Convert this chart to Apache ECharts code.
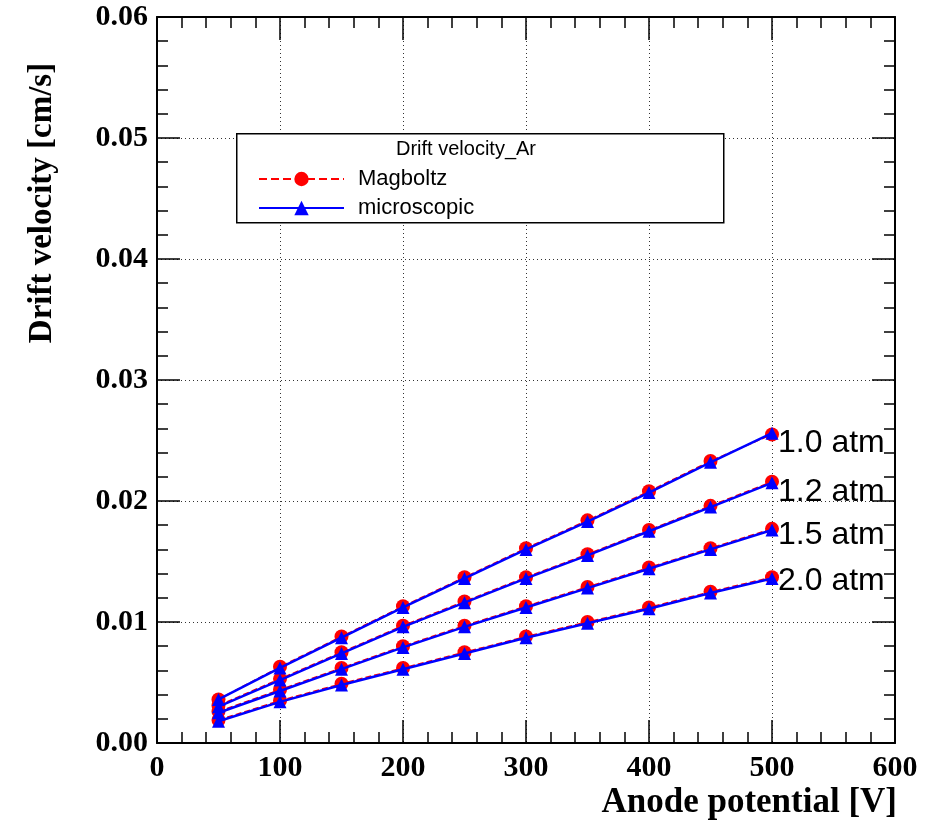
<!DOCTYPE html>
<html>
<head>
<meta charset="utf-8">
<script src="https://cdn.jsdelivr.net/npm/echarts@6/dist/echarts.min.js"></script>
<style>
html,body{margin:0;padding:0;background:#fff;}
#chart{width:932px;height:825px;}
</style>
</head>
<body>
<div id="chart"></div>
<script>
var voltages = [50,100,150,200,250,300,350,400,450,500];
var pressures = ['1.0 atm','1.2 atm','1.5 atm','2.0 atm'];
var magboltz10 = [0.0036,0.0063,0.0088,0.0113,0.0137,0.0161,0.0184,0.0208,0.0233,0.0255];
var magboltz12 = [0.0031,0.0053,0.0075,0.0097,0.0117,0.0137,0.0156,0.0176,0.0196,0.0216];
var magboltz15 = [0.0026,0.0044,0.0062,0.0080,0.0097,0.0113,0.0129,0.0145,0.0161,0.0177];
var magboltz20 = [0.0019,0.0035,0.0049,0.0062,0.0075,0.0088,0.0100,0.0112,0.0125,0.0137];
var micro10 = [0.0036,0.0062,0.0087,0.0112,0.0136,0.0160,0.0183,0.0207,0.0232,0.0256];
var micro12 = [0.0030,0.0052,0.0074,0.0096,0.0116,0.0136,0.0155,0.0175,0.0195,0.0215];
var micro15 = [0.0025,0.0043,0.0061,0.0079,0.0096,0.0112,0.0128,0.0144,0.0160,0.0176];
var micro20 = [0.0018,0.0034,0.0048,0.0061,0.0074,0.0087,0.0099,0.0111,0.0124,0.0136];
var labelOffsets = [[0,10],[0,9],[0,5],[0,3]];

var magAll = [magboltz10, magboltz12, magboltz15, magboltz20];
var micAll = [micro10, micro12, micro15, micro20];

function pairs(arr){ return voltages.map(function(v,i){ return [v, arr[i]]; }); }

var series = [];
magAll.forEach(function(arr){
  series.push({
    name:'Magboltz', type:'line', data:pairs(arr),
    symbol:'circle', symbolSize:14,
    itemStyle:{color:'#ff0000'},
    lineStyle:{color:'#ff0000', type:'dashed', width:1.5},
    z:2, animation:false
  });
});
micAll.forEach(function(arr, k){
  series.push({
    name:'microscopic', type:'line', data:pairs(arr),
    symbol:'triangle', symbolSize:13,
    itemStyle:{color:'#0000ff'},
    lineStyle:{color:'#0000ff', width:2.5},
    z:3, animation:false,
    endLabel:{show:true, formatter:pressures[k], fontFamily:'Liberation Sans, Arial, sans-serif',
      fontSize:32, color:'#000', distance:6, offset:labelOffsets[k]}
  });
});

var tickFont = {fontFamily:'Liberation Serif, Times New Roman, serif', fontWeight:'bold', fontSize:30, color:'#000'};
function frameAxis(extra){
  return Object.assign({
    axisLine:{show:true, onZero:false, lineStyle:{color:'#000', width:2}},
    axisTick:{show:true, inside:true, length:23, lineStyle:{color:'#000', width:1.5}},
    minorTick:{show:true, splitNumber:5, length:11, lineStyle:{color:'#000', width:1.5}}
  }, extra);
}

var chart = echarts.init(document.getElementById('chart'), null, {renderer:'canvas'});
chart.setOption({
  backgroundColor:'#fff',
  animation:false,
  grid:{left:157, right:37, top:17, bottom:82, show:false},
  xAxis:[
    frameAxis({type:'value', min:0, max:600, interval:100, position:'bottom',
      splitLine:{show:true, lineStyle:{color:'#333', type:[1,3], width:1}},
      axisLabel:Object.assign({margin:10}, tickFont)}),
    frameAxis({type:'value', min:0, max:600, interval:100, position:'top',
      splitLine:{show:false}, axisLabel:{show:false}})
  ],
  yAxis:[
    frameAxis({type:'value', min:0, max:0.06, interval:0.01, position:'left',
      splitLine:{show:true, lineStyle:{color:'#333', type:[1,3], width:1}},
      axisLabel:Object.assign({margin:9, formatter:function(v){return v.toFixed(2);}}, tickFont)}),
    frameAxis({type:'value', min:0, max:0.06, interval:0.01, position:'right',
      splitLine:{show:false}, axisLabel:{show:false}})
  ],
  legend:{
    data:['Magboltz','microscopic'], orient:'vertical', left:253, top:163, z:20,
    itemWidth:85, itemHeight:18, itemGap:7,
    textStyle:{fontFamily:'Liberation Sans, Arial, sans-serif', fontSize:22, color:'#000', padding:[0,0,0,9]}
  },
  graphic:[
    {type:'rect', left:236, top:133, shape:{width:487, height:89}, style:{fill:'#fff', stroke:'#000', lineWidth:1.5}, z:5},
    {type:'text', left:'center', top:139, style:{text:'Drift velocity_Ar', fontFamily:'Liberation Sans, Arial, sans-serif', fontSize:20, fill:'#000'}, z:6},
    {type:'text', x:42, y:203, rotation:Math.PI/2, style:{text:'Drift velocity [cm/s]', fontFamily:'Liberation Serif, Times New Roman, serif', fontWeight:'bold', fontSize:33, fill:'#000', align:'center', verticalAlign:'middle'}},
    {type:'text', x:897, y:803, style:{text:'Anode potential [V]', fontFamily:'Liberation Serif, Times New Roman, serif', fontWeight:'bold', fontSize:35, fill:'#000', align:'right', verticalAlign:'middle'}}
  ],
  series:series
});
</script>
</body>
</html>
